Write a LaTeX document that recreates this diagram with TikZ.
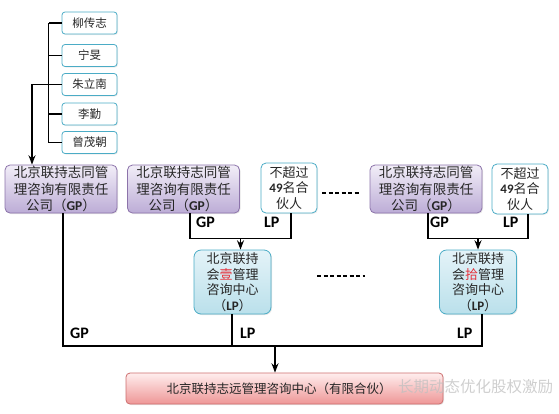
\documentclass[tikz,border=0pt]{standalone}
\usepackage{fontspec}
\setmainfont{Noto Sans CJK SC}
\newfontfamily\labelfont{Carlito}
\usetikzlibrary{calc, shadows, arrows.meta, positioning}
\definecolor{personline}{RGB}{75, 172, 198}
\definecolor{gpline}{RGB}{140, 115, 170}
\definecolor{gptop}{RGB}{242, 238, 248}
\definecolor{gpbottom}{RGB}{188, 172, 214}
\definecolor{lptop}{RGB}{228, 243, 248}
\definecolor{lpbottom}{RGB}{186, 224, 235}
\definecolor{fundline}{RGB}{205, 110, 110}
\definecolor{fundtop}{RGB}{255, 238, 238}
\definecolor{fundbottom}{RGB}{238, 150, 150}
\definecolor{mark}{RGB}{230, 50, 60}
\newcommand{\ptlabel}[1]{{\labelfont\bfseries #1}}

\begin{document}
\begin{tikzpicture}[
	x=1pt, y=-1pt,
	>=Stealth,
	% Styles for the boxes
	personbox/.style={draw=personline, thick, fill=white, rounded corners=3pt, minimum width=55pt, minimum height=22pt, inner sep=1pt, font=\fontsize{11.5}{13}\selectfont, text=black!85, drop shadow={opacity=0.15, shadow xshift=1pt, shadow yshift=-1pt}},
	gpbox/.style={draw=gpline, thick, top color=gptop, bottom color=gpbottom, rounded corners=5pt, minimum width=112pt, minimum height=48pt, inner sep=1pt, align=center, font=\fontsize{13.5}{16.5}\selectfont, text=black!85, drop shadow={opacity=0.2, shadow xshift=1pt, shadow yshift=-1pt}},
	partnerbox/.style={draw=personline, thick, fill=white, rounded corners=5pt, minimum width=56pt, minimum height=50pt, inner sep=1pt, align=center, font=\fontsize{13}{15.5}\selectfont, text=black!85, drop shadow={opacity=0.15, shadow xshift=1pt, shadow yshift=-1pt}},
	lpbox/.style={draw=personline, thick, top color=lptop, bottom color=lpbottom, rounded corners=7pt, minimum width=77pt, minimum height=64pt, inner sep=1pt, align=center, font=\fontsize{13}{15.7}\selectfont, text=black!85, drop shadow={opacity=0.2, shadow xshift=1pt, shadow yshift=-1pt}},
	fundbox/.style={draw=fundline, thick, top color=fundtop, bottom color=fundbottom, rounded corners=4pt, minimum width=317pt, minimum height=31pt, inner sep=1pt, font=\fontsize{12.5}{14}\selectfont, text=black!85, drop shadow={opacity=0.2, shadow xshift=1pt, shadow yshift=-1pt}},
	% Styles for lines and labels
	link/.style={line width=1.4pt, black},
	flowlabel/.style={font=\fontsize{16}{17}\selectfont, inner sep=0pt},
	gapdash/.style={line width=1.5pt, dash pattern=on 4pt off 2.5pt}
	]
	\useasboundingbox (0,0) rectangle (559,413);
	
	% ==========================================
	% FOUNDERS
	% ==========================================
	\node[personbox] (liu)  at (89.5, 23)   {柳传志};
	\node[personbox] (ning) at (89.5, 55.5) {宁旻};
	\node[personbox] (zhu)  at (89.5, 84.5) {朱立南};
	\node[personbox] (li)   at (89.5, 114)  {李勤};
	\node[personbox] (zeng) at (89.5, 142.5) {曾茂朝};
	
	\foreach \p in {liu, ning, zhu, li, zeng}
		\draw[link] (\p.west) -- ++(-13,0);
	\draw[link] ($(liu.west)+(-13,0)$) -- ($(zeng.west)+(-13,0)$);
	\coordinate (founders) at ($(zhu.west)+(-13,0)$);
	
	% ==========================================
	% GP COMPANIES AND PARTNERS
	% ==========================================
	\node[gpbox] (gp1) at (61, 189)    {北京联持志同管\\理咨询有限责任\\公司（\ptlabel{GP}）};
	\node[gpbox] (gp2) at (183.5, 189) {北京联持志同管\\理咨询有限责任\\公司（\ptlabel{GP}）};
	\node[gpbox] (gp3) at (426, 189)   {北京联持志同管\\理咨询有限责任\\公司（\ptlabel{GP}）};
	\node[partnerbox] (lpa) at (289, 188) {不超过\\\ptlabel{49}名合\\伙人};
	\node[partnerbox] (lpb) at (520, 189) {不超过\\\ptlabel{49}名合\\伙人};
	
	\draw[link, ->] (founders) -| ([xshift=-29pt]gp1.north);
	\draw[gapdash] (322,193) -- (360,193);
	
	% ==========================================
	% LP CENTRES
	% ==========================================
	\node[lpbox] (c1)  at (232.5, 282) {北京联持\\会{\color{mark}壹}管理\\咨询中心\\（\ptlabel{LP}）};
	\node[lpbox] (c10) at (478, 282)   {北京联持\\会{\color{mark}拾}管理\\咨询中心\\（\ptlabel{LP}）};
	\draw[gapdash] (317,276) -- (365,276);
	
	% group 1
	\coordinate (g1gp) at ([xshift=6.5pt]gp2.south);
	\coordinate (g1lp) at ([xshift=2pt]lpa.south);
	\draw[link] (g1gp) -- ++(0,25) -| (g1lp);
	\coordinate (g1mid) at ($(g1gp)!0.5!(g1lp)+(0,25)$);
	\draw[link, ->] (g1mid) -- (g1mid |- c1.north);
	\node[flowlabel, anchor=west] (g1gplab) at (196, 222) {\ptlabel{GP}};
	\node[flowlabel, anchor=west] (g1lplab) at (264, 222) {\ptlabel{LP}};
	
	% group 10
	\coordinate (g10gp) at ([xshift=2pt]gp3.south);
	\coordinate (g10lp) at ([xshift=8pt]lpb.south);
	\draw[link] (g10gp) -- ++(0,25) -| (g10lp);
	\draw[link, ->] ($(g10gp)!0.5!(g10lp)+(0,25)$) -- (c10.north);
	\node[flowlabel, anchor=west] (g10gplab) at (430, 222) {\ptlabel{GP}};
	\node[flowlabel, anchor=west] (g10lplab) at (503, 222) {\ptlabel{LP}};
	
	% ==========================================
	% FUND
	% ==========================================
	\node[fundbox] (fund) at (284.5, 388.5) {\hspace*{-11pt}北京联持志远管理咨询中心（有限合伙）};
	\node[text=black!25, opacity=0.75, font=\fontsize{15.5}{17}\selectfont, anchor=west, inner sep=0pt] (wm) at (398, 387) {长期动态优化股权激励};
	
	\draw[link] ([xshift=2pt]gp1.south) |- (482,346) -- ([xshift=4pt]c10.south);
	\draw[link] ([xshift=-0.5pt]c1.south) -- ++(0,32);
	\draw[link, ->] (275,346) -- (fund.north -| 275,0);
	\node[flowlabel, anchor=west] (fgplab)  at (70, 333)  {\ptlabel{GP}};
	\node[flowlabel, anchor=west] (c1lab)   at (240, 333) {\ptlabel{LP}};
	\node[flowlabel, anchor=west] (c10lab)  at (457, 333) {\ptlabel{LP}};
	
\end{tikzpicture}
\end{document}
